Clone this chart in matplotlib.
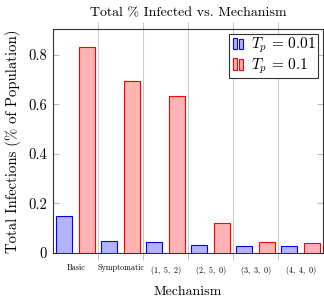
import numpy as np
import matplotlib
matplotlib.use('Agg')
import matplotlib.pyplot as plt
from matplotlib.patches import Rectangle
from matplotlib.legend_handler import HandlerBase

plt.rcParams['font.family'] = ['cmr10', 'DejaVu Serif']
plt.rcParams['mathtext.fontset'] = 'cm'
plt.rcParams['axes.formatter.use_mathtext'] = True

# Data
mechanisms = ["Basic", "Symptomatic", r"$(1,\ 5,\ 2)$", r"$(2,\ 5,\ 0)$",
              r"$(3,\ 3,\ 0)$", r"$(4,\ 4,\ 0)$"]
tp_001 = [0.148, 0.048, 0.044, 0.031, 0.030, 0.028]
tp_01 = [0.834, 0.695, 0.634, 0.121, 0.043, 0.039]
y_ticks = [0, 0.2, 0.4, 0.6, 0.8]


class TwoBarHandler(HandlerBase):
    def create_artists(self, legend, orig, xd, yd, width, height, fontsize, trans):
        patch = orig.patches[0]
        fc = patch.get_facecolor()
        ec = patch.get_edgecolor()
        w = width * 0.28
        r1 = Rectangle((xd + width * 0.1, yd - height * 0.05), w, height * 1.1,
                       facecolor=fc, edgecolor=ec, lw=0.8, transform=trans)
        r2 = Rectangle((xd + width * 0.5, yd - height * 0.05), w, height * 0.95,
                       facecolor=fc, edgecolor=ec, lw=0.8, transform=trans)
        return [r1, r2]


fig = plt.figure(figsize=(3.24, 2.99), dpi=100)
ax = fig.add_axes([0.164, 0.154, 0.833, 0.749])

x = np.arange(len(mechanisms))
bw = 0.36
b1 = ax.bar(x - 0.25, tp_001, bw, color='#b3b3ff', edgecolor='blue', linewidth=0.8,
            label=r'$T_p\,=\,0.01$', zorder=3)
b2 = ax.bar(x + 0.25, tp_01, bw, color='#ffb3b3', edgecolor='red', linewidth=0.8,
            label=r'$T_p\,=\,0.1$', zorder=3)

ax.set_xlim(-0.5, len(mechanisms) - 0.5)
ax.set_ylim(0, 0.905)

ax.set_xticks(x)
ax.set_xticklabels(mechanisms, fontsize=5.8)
ax.tick_params(axis='x', which='major', length=0, pad=8)
ax.set_xticks(np.arange(0.5, len(mechanisms) - 0.5), minor=True)
ax.tick_params(axis='x', which='minor', direction='out', length=5, color='#bbbbbb',
               top=True, bottom=True)
ax.grid(True, axis='x', which='minor', color='#cccccc', linewidth=0.8, zorder=0)

ax.set_yticks(y_ticks)
ax.set_yticklabels(['0', '0.2', '0.4', '0.6', '0.8'], fontsize=10.5)
ax.tick_params(axis='y', direction='in', length=4, color='#bbbbbb', left=True, right=True,
               pad=4.5)

for s in ax.spines.values():
    s.set_linewidth(0.8)
    s.set_color('#333333')

ax.set_title("Total % Infected vs. Mechanism", fontsize=10, pad=9)
ax.set_xlabel("Mechanism", fontsize=10, labelpad=6)
ax.set_ylabel("Total Infections (% of Population)", fontsize=10.6, labelpad=5)

leg = ax.legend(handler_map={b1: TwoBarHandler(), b2: TwoBarHandler()},
                loc='upper right', fontsize=11, fancybox=False, framealpha=1,
                edgecolor='#333333', handlelength=1.0, handletextpad=0.3,
                borderpad=0.15, labelspacing=0.05, borderaxespad=0.3)
leg.get_frame().set_linewidth(0.8)

plt.savefig("out.png", dpi=100)
plt.close()
